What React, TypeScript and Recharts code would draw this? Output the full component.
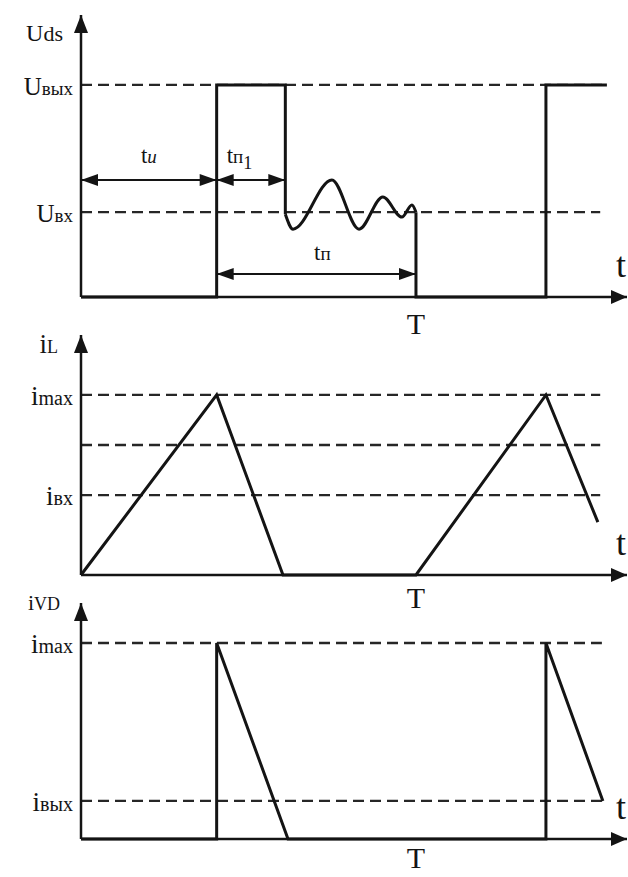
import React from 'react';
import { LineChart, Line, XAxis, YAxis, ReferenceLine, ReferenceDot } from 'recharts';

const FONT = '"Liberation Serif", "Times New Roman", serif';
const INK = '#141414';
const DASH = '#262626';
const W = 628;

// shared time scale (T = 10)
const T_END = 16.3;
const T_ON = 4.05;    // end of tи
const T_P1 = 6.1;     // end of tп1
const T_PER = 10;     // T
const T_ON2 = 13.88;  // next switch-on
const T_STOP = 15.7;
const T_DASH = 15.5;

// Uds
const udsTop = 13.3;
const uOut = 10;  // Uвых
const uIn = 4;    // Uвх
const dimHigh = 5.52;
const dimLow = 1.08;
const udsOn = [
  { t: 0, v: 0 }, { t: T_ON, v: 0 }, { t: T_ON, v: uOut }, { t: T_P1, v: uOut }, { t: T_P1, v: 3.9 },
];
const udsRing = [
  { t: 6.1, v: 3.9 }, { t: 6.33, v: 3.2 }, { t: 7.49, v: 5.52 }, { t: 8.3, v: 3.2 },
  { t: 9.01, v: 4.72 }, { t: 9.58, v: 3.77 }, { t: 9.88, v: 4.34 }, { t: 10, v: 4.0 },
];
const udsOff = [
  { t: 10, v: 4.0 }, { t: 10, v: 0 }, { t: T_ON2, v: 0 }, { t: T_ON2, v: uOut }, { t: T_STOP, v: uOut },
];

// iL
const ilTop = 13.33;
const ilMax = 10;
const ilMid = 7.22;
const ilIn = 4.44;
const ilWave = [
  { t: 0, v: 0 }, { t: 4.05, v: 10 }, { t: 6.03, v: 0 }, { t: 10, v: 0 }, { t: 13.88, v: 10 }, { t: 15.43, v: 2.94 },
];

// iVD
const ivdTop = 12.04;
const ivdMax = 10;
const ivdOut = 1.94;
const ivdWave = [
  { t: 0, v: 0 }, { t: 4.05, v: 0 }, { t: 4.05, v: 10 }, { t: 6.18, v: 0 },
  { t: 13.88, v: 0 }, { t: 13.88, v: 10 }, { t: 15.58, v: 1.94 },
];

const head = (dir: 'up' | 'left' | 'right', len = 16, half = 6) => (p: any) => {
  const { cx, cy } = p;
  let d = '';
  if (dir === 'up') d = `M${cx},${cy} L${cx - half},${cy + len} L${cx + half},${cy + len} Z`;
  if (dir === 'right') d = `M${cx},${cy} L${cx - len},${cy - half} L${cx - len},${cy + half} Z`;
  if (dir === 'left') d = `M${cx},${cy} L${cx + len},${cy - half} L${cx + len},${cy + half} Z`;
  return <path d={d} fill={INK} />;
};

const note = (body: React.ReactNode, dx: number, dy: number, size: number, anchor = 'middle') => (p: any) => (
  <text x={p.cx + dx} y={p.cy + dy} fontSize={size} fontFamily={FONT} fill={INK} textAnchor={anchor}>
    {body}
  </text>
);

const sym = (main: string, sub: string, big = 25, small = 19) => (
  <>
    <tspan fontSize={big}>{main}</tspan>
    <tspan fontSize={small}>{sub}</tspan>
  </>
);

const levelTick = (names: Record<string, React.ReactNode>) => (p: any) => (
  <text x={p.x} y={p.y + 10} textAnchor="end" fontFamily={FONT} fill={INK}>
    {names[String(p.payload.value)]}
  </text>
);

const dashed = (y: number, x2 = T_DASH) => (
  <ReferenceLine
    key={`d${y}`}
    segment={[{ x: 0, y }, { x: x2, y }]}
    stroke={DASH}
    strokeWidth={2.3}
    strokeDasharray="11 6"
  />
);

const wave = (data: { t: number; v: number }[], type: 'linear' | 'monotone' = 'linear') => (
  <Line
    data={data}
    dataKey="v"
    type={type}
    stroke={INK}
    strokeWidth={3}
    dot={false}
    isAnimationActive={false}
  />
);

const axes = (top: number, names: Record<string, React.ReactNode>) => [
  <XAxis
    key="x"
    type="number"
    dataKey="t"
    domain={[0, T_END]}
    tick={false}
    tickLine={false}
    height={1}
    axisLine={{ stroke: INK, strokeWidth: 2.5 }}
  />,
  <YAxis
    key="y"
    type="number"
    domain={[0, top]}
    ticks={Object.keys(names).map(Number)}
    tick={levelTick(names)}
    tickLine={false}
    width={81}
    axisLine={{ stroke: INK, strokeWidth: 2.5 }}
  />,
  <ReferenceDot key="ay" x={0} y={top} r={1} ifOverflow="visible" shape={head('up', 18, 7)} />,
  <ReferenceDot key="ax" x={T_END} y={0} r={1} ifOverflow="visible" shape={head('right', 16, 7)} />,
  <ReferenceDot key="tl" x={T_END} y={0} r={1} ifOverflow="visible" shape={note('t', -6, -20, 36)} />,
];

const dimArrow = (x1: number, x2: number, y: number) => [
  <ReferenceLine key={`s${x1}${y}`} segment={[{ x: x1, y }, { x: x2, y }]} stroke={INK} strokeWidth={2} />,
  <ReferenceDot key={`l${x1}${y}`} x={x1} y={y} r={1} ifOverflow="visible" shape={head('left', 17, 6)} />,
  <ReferenceDot key={`r${x2}${y}`} x={x2} y={y} r={1} ifOverflow="visible" shape={head('right', 17, 6)} />,
];

const box = (top: number, height: number): React.CSSProperties => ({
  position: 'absolute',
  left: 0,
  top,
  width: W,
  height,
});

export default function App() {
  return (
    <div style={{ position: 'absolute', left: 0, top: 0, width: W, height: 877, background: '#fff', overflow: 'hidden' }}>
      <div style={box(0, 348)}>
        <LineChart width={W} height={348} margin={{ top: 15, right: 1, bottom: 50, left: 0 }}>
          {axes(udsTop, { [uOut]: sym('U', 'вых'), [uIn]: sym('U', 'вх') })}
          {dashed(uOut, T_STOP)}
          {dashed(uIn)}
          {dimArrow(0, T_ON, dimHigh)}
          {dimArrow(T_ON, T_P1, dimHigh)}
          {dimArrow(T_ON, T_PER, dimLow)}
          {wave(udsOn)}
          {wave(udsRing, 'monotone')}
          {wave(udsOff)}
          <ReferenceDot x={0} y={udsTop} r={1} ifOverflow="visible" shape={note(sym('U', 'ds', 24, 22), -18, 26, 24, 'end')} />
          <ReferenceDot x={T_ON / 2} y={dimHigh} r={1} ifOverflow="visible"
            shape={note(<><tspan>t</tspan><tspan fontStyle="italic" fontSize={19}>и</tspan></>, 0, -17, 23)} />
          <ReferenceDot x={T_ON} y={dimHigh} r={1} ifOverflow="visible"
            shape={note(<><tspan>t</tspan><tspan fontSize={19}>п</tspan><tspan fontSize={18} dy={6}>1</tspan></>, 10, -17, 23, 'start')} />
          <ReferenceDot x={(T_ON + T_PER) / 2} y={dimLow} r={1} ifOverflow="visible"
            shape={note(<><tspan>t</tspan><tspan fontSize={19}>п</tspan></>, 6, -14, 23)} />
          <ReferenceDot x={T_PER} y={0} r={1} ifOverflow="visible" shape={note('T', 0, 37, 30)} />
        </LineChart>
      </div>

      <div style={box(320, 302)}>
        <LineChart width={W} height={302} margin={{ top: 15, right: 1, bottom: 46, left: 0 }}>
          {axes(ilTop, { [ilMax]: sym('i', 'max', 27, 20), [ilIn]: sym('i', 'вх', 27, 20) })}
          {dashed(ilMax)}
          {dashed(ilMid)}
          {dashed(ilIn)}
          {wave(ilWave)}
          <ReferenceDot x={0} y={ilTop} r={1} ifOverflow="visible" shape={note(sym('i', 'L', 27, 18), -23, 18, 27, 'end')} />
          <ReferenceDot x={T_PER} y={0} r={1} ifOverflow="visible" shape={note('T', 0, 33, 30)} />
        </LineChart>
      </div>

      <div style={box(588, 289)}>
        <LineChart width={W} height={289} margin={{ top: 15, right: 1, bottom: 37, left: 0 }}>
          {axes(ivdTop, { [ivdMax]: sym('i', 'max', 27, 20), [ivdOut]: sym('i', 'вых', 27, 20) })}
          {dashed(ivdMax, 15.55)}
          {dashed(ivdOut, 15.55)}
          {wave(ivdWave)}
          <ReferenceDot x={0} y={ivdTop} r={1} ifOverflow="visible" shape={note(sym('i', 'VD', 22, 18), -21, 7, 22, 'end')} />
          <ReferenceDot x={T_PER} y={0} r={1} ifOverflow="visible" shape={note('T', 0, 29, 30)} />
        </LineChart>
      </div>
    </div>
  );
}
